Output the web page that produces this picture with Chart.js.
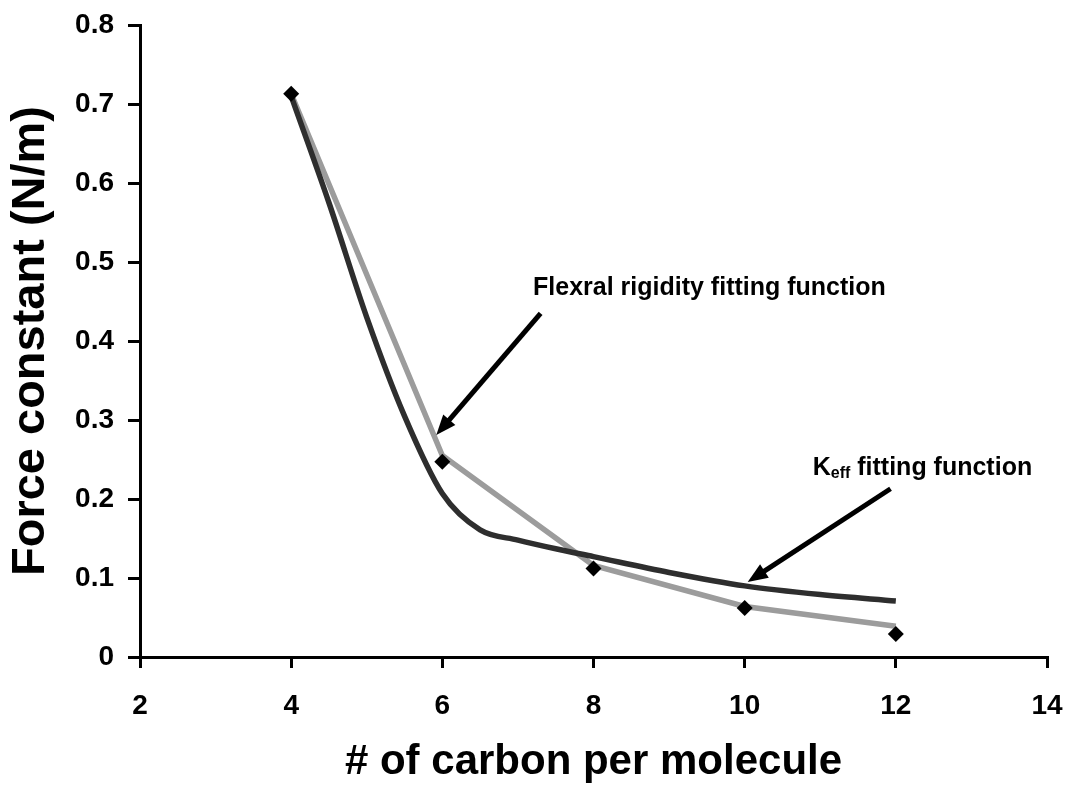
<!DOCTYPE html>
<html>
<head>
<meta charset="utf-8">
<script src="https://cdn.jsdelivr.net/npm/chart.js@4.4.1/dist/chart.umd.min.js"></script>
<style>
  html, body { margin: 0; padding: 0; background: #fff; }
  #wrap { width: 1069px; height: 789px; position: relative; }
</style>
</head>
<body>
<div id="wrap"><canvas id="c" width="1069" height="789"></canvas></div>
<script>
// ---- data ----
const carbonCounts = [4, 6, 8, 10, 12];
const measuredForce = [0.713, 0.247, 0.112, 0.062, 0.029];

const flexFitX = [4, 6, 8, 10, 12];
const flexFitY = [0.713, 0.255, 0.116, 0.064, 0.039];

const keffFitX = [4, 4.5, 5, 5.5, 6, 6.5, 7, 7.5, 8, 9, 10, 11, 12];
const keffFitY = [0.71, 0.575, 0.43, 0.305, 0.207, 0.161, 0.148, 0.137, 0.127, 0.107, 0.090, 0.079, 0.071];

const xTicks = [2, 4, 6, 8, 10, 12, 14];
const yTicks = [0, 0.1, 0.2, 0.3, 0.4, 0.5, 0.6, 0.7, 0.8];

// annotation anchors in data units
const flexLabel = { text: 'Flexral rigidity fitting function', x: 7.20, y: 0.458 };
const flexArrow = { fromX: 7.30, fromY: 0.435, toX: 5.92, toY: 0.281 };
const keffLabel = { main: 'K', sub: 'eff', rest: ' fitting function', x: 10.90, y: 0.230 };
const keffArrow = { fromX: 11.93, fromY: 0.213, toX: 10.04, toY: 0.095 };

const FONT = '"Liberation Sans", Arial, Helvetica, sans-serif';

function pts(xs, ys) { return xs.map((x, i) => ({ x: x, y: ys[i] })); }

const annotPlugin = {
  id: 'annot',
  afterDatasetsDraw(chart) {
    const ctx = chart.ctx;
    const xs = chart.scales.x, ys = chart.scales.y;
    function arrow(a) {
      const x1 = xs.getPixelForValue(a.fromX), y1 = ys.getPixelForValue(a.fromY);
      const x2 = xs.getPixelForValue(a.toX), y2 = ys.getPixelForValue(a.toY);
      const ang = Math.atan2(y2 - y1, x2 - x1);
      const headLen = 20, headW = 8;
      const bx = x2 - headLen * Math.cos(ang), by = y2 - headLen * Math.sin(ang);
      ctx.save();
      ctx.strokeStyle = '#000';
      ctx.fillStyle = '#000';
      ctx.lineWidth = 5;
      ctx.beginPath();
      ctx.moveTo(x1, y1);
      ctx.lineTo(bx + 2 * Math.cos(ang), by + 2 * Math.sin(ang));
      ctx.stroke();
      ctx.beginPath();
      ctx.moveTo(x2, y2);
      ctx.lineTo(bx + headW * Math.sin(ang), by - headW * Math.cos(ang));
      ctx.lineTo(bx - headW * Math.sin(ang), by + headW * Math.cos(ang));
      ctx.closePath();
      ctx.fill();
      ctx.restore();
    }
    arrow(flexArrow);
    arrow(keffArrow);

    ctx.save();
    ctx.fillStyle = '#000';
    ctx.textBaseline = 'alphabetic';
    ctx.textAlign = 'left';
    ctx.font = 'bold 25px ' + FONT;
    ctx.fillText(flexLabel.text, xs.getPixelForValue(flexLabel.x), ys.getPixelForValue(flexLabel.y));

    let kx = xs.getPixelForValue(keffLabel.x);
    const ky = ys.getPixelForValue(keffLabel.y);
    ctx.font = 'bold 25px ' + FONT;
    ctx.fillText(keffLabel.main, kx, ky);
    kx += ctx.measureText(keffLabel.main).width;
    ctx.font = 'bold 16px ' + FONT;
    ctx.fillText(keffLabel.sub, kx, ky + 3);
    kx += ctx.measureText(keffLabel.sub).width;
    ctx.font = 'bold 25px ' + FONT;
    ctx.fillText(keffLabel.rest, kx, ky);
    ctx.restore();
  }
};

new Chart(document.getElementById('c'), {
  type: 'scatter',
  data: {
    datasets: [
      {
        label: 'measured',
        data: pts(carbonCounts, measuredForce),
        showLine: false,
        pointStyle: 'rectRot',
        pointRadius: 8,
        backgroundColor: '#000',
        borderColor: '#000',
        borderWidth: 0,
        order: 0
      },
      {
        label: 'Keff fitting function',
        data: pts(keffFitX, keffFitY),
        showLine: true,
        borderColor: '#2e2e2e',
        borderWidth: 5.5,
        pointRadius: 0,
        tension: 0.2,
        cubicInterpolationMode: 'monotone',
        order: 1
      },
      {
        label: 'Flexral rigidity fitting function',
        data: pts(flexFitX, flexFitY),
        showLine: true,
        borderColor: '#9c9c9c',
        borderWidth: 5.5,
        pointRadius: 0,
        tension: 0,
        order: 2
      }
    ]
  },
  options: {
    responsive: false,
    animation: false,
    devicePixelRatio: 1,
    layout: { padding: { top: 25, right: 22, bottom: 0, left: 0 } },
    plugins: { legend: { display: false }, tooltip: { enabled: false } },
    scales: {
      x: {
        type: 'linear',
        min: 2, max: 14,
        afterFit(scale) {
          scale.height = 132;
          scale.paddingLeft = 0; scale.paddingRight = 0;
        },
        afterBuildTicks(scale) { scale.ticks = xTicks.map(v => ({ value: v })); },
        border: { display: true, color: '#000', width: 3 },
        grid: { drawOnChartArea: false, drawTicks: true, tickLength: 11, color: '#000', lineWidth: 3 },
        ticks: { color: '#000', padding: 21, font: { family: FONT, size: 28, weight: 'bold' } },
        title: {
          display: true, text: '# of carbon per molecule', color: '#000',
          font: { family: FONT, size: 42, weight: 'bold' },
          padding: { top: 0, bottom: 1 }
        }
      },
      y: {
        type: 'linear',
        min: 0, max: 0.8,
        afterFit(scale) {
          scale.width = 140;
          scale.paddingTop = 0; scale.paddingBottom = 0;
        },
        afterBuildTicks(scale) { scale.ticks = yTicks.map(v => ({ value: v })); },
        border: { display: true, color: '#000', width: 3 },
        grid: { drawOnChartArea: false, drawTicks: true, tickLength: 12, color: '#000', lineWidth: 3 },
        ticks: {
          color: '#000', padding: 14,
          font: { family: FONT, size: 28, weight: 'bold' },
          callback: v => String(Math.round(v * 10) / 10)
        },
        title: {
          display: true, text: 'Force constant (N/m)', color: '#000',
          font: { family: FONT, size: 47, weight: 'bold' },
          padding: { top: 3, bottom: 0 }
        }
      }
    }
  },
  plugins: [annotPlugin]
});
</script>
</body>
</html>
